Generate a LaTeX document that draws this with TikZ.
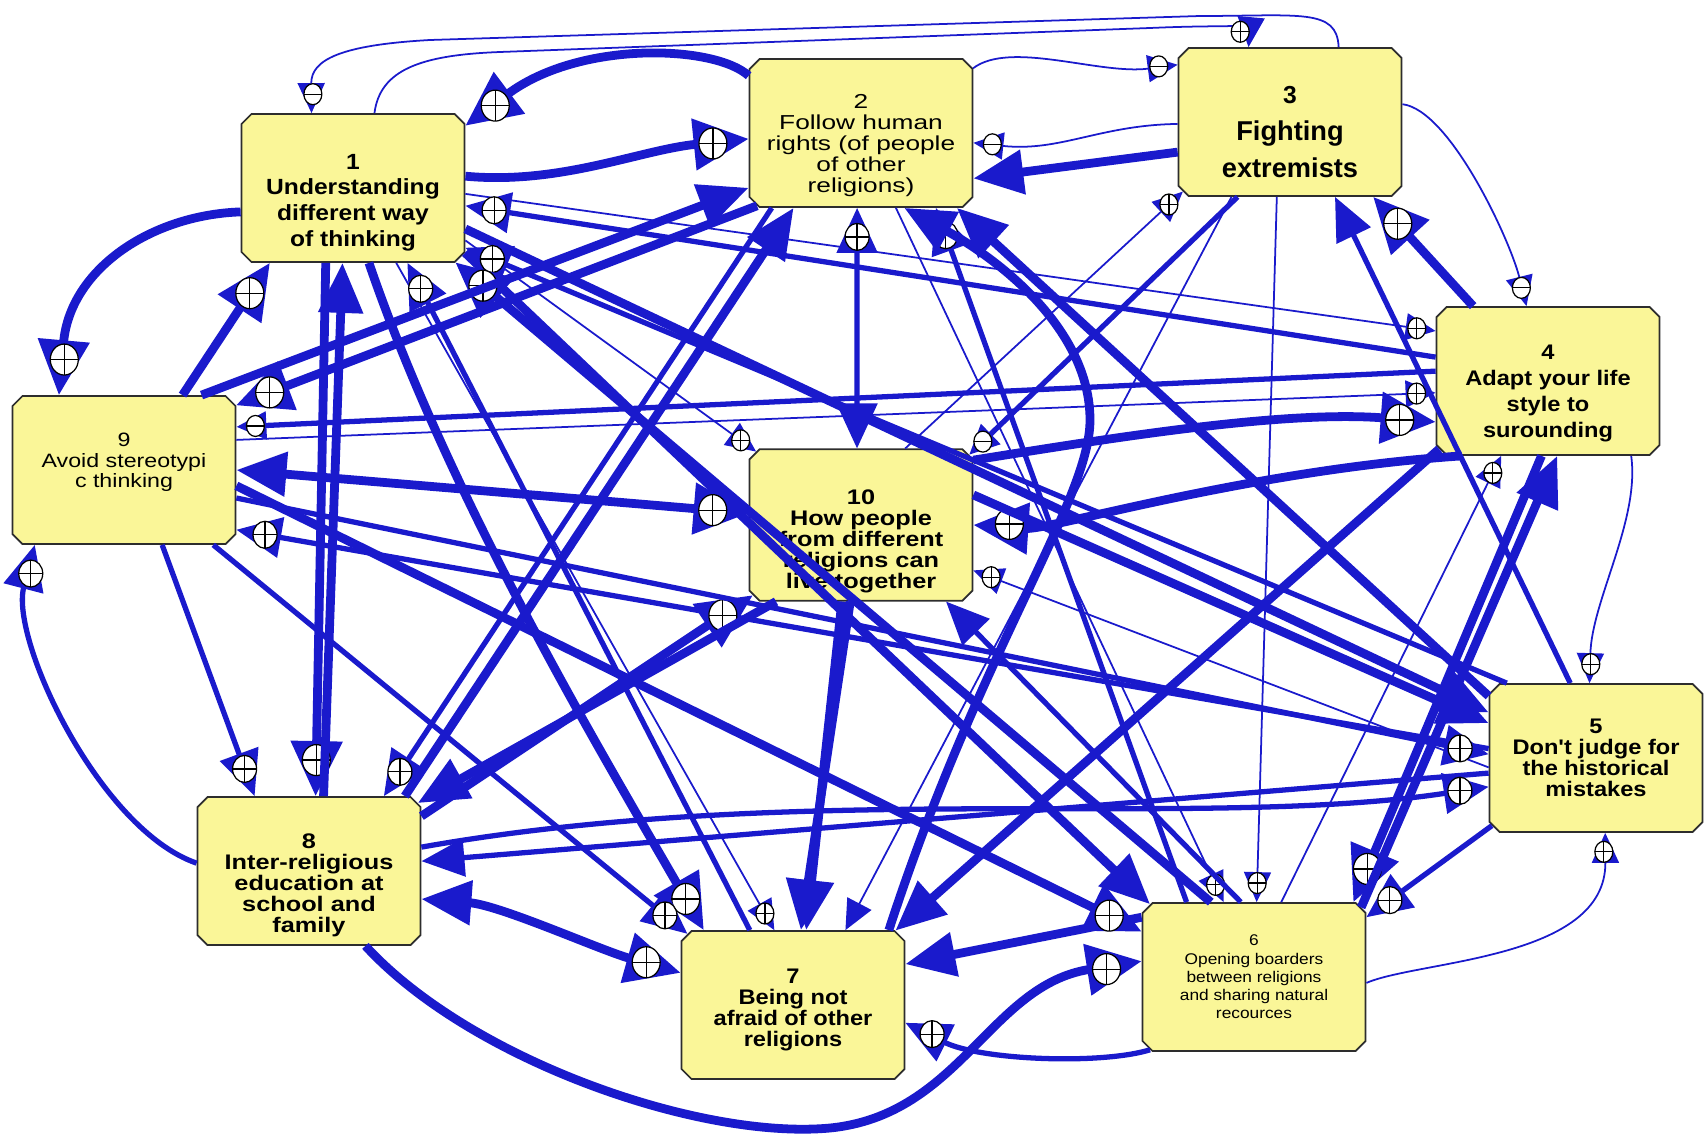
\documentclass[tikz,border=0pt]{standalone}
\usepackage{fontspec}
\setmainfont{Liberation Sans}
\newfontfamily\widesans[FakeStretch=1.12]{Liberation Sans}
\newfontfamily\widersans[FakeStretch=1.2]{Liberation Sans}
\newfontfamily\widestsans[FakeStretch=1.3]{Liberation Sans}
\usetikzlibrary{shapes.misc,shapes.geometric,arrows.meta,decorations.markings}
\definecolor{linkblue}{RGB}{26,26,204}
\definecolor{factorfill}{RGB}{250,246,152}
\definecolor{factorline}{RGB}{45,45,45}

\begin{document}
\begin{tikzpicture}[
  x=0.2mm, y=-0.2mm,
  factor/.style={chamfered rectangle, chamfered rectangle xsep=1mm,
    chamfered rectangle ysep=1mm, draw=factorline, line width=1pt,
    fill=factorfill, minimum width=44.6mm, minimum height=29.6mm,
    inner sep=0.5mm, align=center},
  link/.style={draw=linkblue, line join=round},
  thinlink/.style={link, line width=1pt},
  midlink/.style={link, line width=3pt},
  thicklink/.style={link, line width=5pt},
  plusmark/.style={ellipse, draw=black, fill=white, line width=0.7pt,
    minimum width=5.6mm, minimum height=6.2mm, inner sep=0pt,
    path picture={\draw[-, black, line width=0.7pt]
      (path picture bounding box.north) -- (path picture bounding box.south)
      (path picture bounding box.west) -- (path picture bounding box.east);}},
  midplus/.style={plusmark, minimum width=4.8mm, minimum height=5.4mm},
  smallplus/.style={plusmark, minimum width=3.6mm, minimum height=4.2mm},
  smallminus/.style={ellipse, draw=black, fill=white, line width=0.7pt,
    minimum width=3.6mm, minimum height=4.2mm, inner sep=0pt,
    path picture={\draw[-, black, line width=0.7pt]
      (path picture bounding box.west) -- (path picture bounding box.east);}},
  posbig/.style={-{Triangle[length=11mm,width=10mm]},
    postaction={decorate, decoration={markings,
      mark=at position -7.2mm with {\node[plusmark] {};}}}},
  posmid/.style={-{Triangle[length=9mm,width=8mm]},
    postaction={decorate, decoration={markings,
      mark=at position -5.8mm with {\node[midplus] {};}}}},
  possmall/.style={-{Triangle[length=6mm,width=5.4mm]},
    postaction={decorate, decoration={markings,
      mark=at position -3.8mm with {\node[smallplus] {};}}}},
  negsmall/.style={-{Triangle[length=6mm,width=5.4mm]},
    postaction={decorate, decoration={markings,
      mark=at position -3.8mm with {\node[smallminus] {};}}}},
  bothplus/.style={{Triangle[length=10mm,width=8.6mm]}-{Triangle[length=11mm,width=10mm]},
    postaction={decorate, decoration={markings,
      mark=at position -7.2mm with {\node[plusmark] {};}}}},
  bothmid/.style={{Triangle[length=9mm,width=8mm]}-{Triangle[length=9mm,width=8mm]},
    postaction={decorate, decoration={markings,
      mark=at position -5.8mm with {\node[midplus] {};}}}},
  headbig/.style={-{Triangle[length=10mm,width=8.6mm]}},
  headmid/.style={-{Triangle[length=8.6mm,width=7.4mm]}},
  headsmall/.style={-{Triangle[length=6mm,width=5.4mm]}}
]
\fill[white] (0,0) rectangle (1704,1136);
\useasboundingbox (0,0) rectangle (1704,1136);

% Factors
\node[factor, font=\widesans\fontsize{12.5}{14.6}\selectfont\bfseries] (n1) at (353,188) {\rule{0pt}{25pt}1\\Understanding\\different way\\of thinking};
\node[factor, font=\widestsans\fontsize{11.5}{12}\selectfont] (n2) at (861,133) {\rule{0pt}{22.5pt}2\\Follow human\\rights (of people\\of other\\religions)};
\node[factor, font=\fontsize{15.5}{21}\selectfont\bfseries] (n3) at (1290,122) {\rule{0pt}{21pt}{\fontsize{14}{14}\selectfont 3}\\Fighting\\extremists};
\node[factor, font=\widesans\fontsize{12}{14.8}\selectfont\bfseries] (n4) at (1548,381) {\rule{0pt}{22pt}4\\Adapt your life\\style to\\surounding};
\node[factor, minimum width=42.6mm, font=\widesans\fontsize{12}{12}\selectfont\bfseries] (n5) at (1596,758) {5\\Don't judge for\\the historical\\mistakes};
\node[factor, font=\widesans\fontsize{8.8}{10.4}\selectfont] (n6) at (1254,977) {6\\Opening boarders\\between religions\\and sharing natural\\recources};
\node[factor, font=\widesans\fontsize{12}{12}\selectfont\bfseries] (n7) at (793,1005) {\rule{0pt}{13.6pt}7\\Being not\\afraid of other\\religions};
\node[factor, font=\widersans\fontsize{12}{12}\selectfont\bfseries] (n8) at (309,871) {\rule{0pt}{24.6pt}8\\Inter-religious\\education at\\school and\\family};
\node[factor, font=\widersans\fontsize{11}{11.8}\selectfont] (n9) at (124,470) {9\\Avoid stereotypi\\c thinking\rule[-11pt]{0pt}{0pt}};
\node[factor, font=\widersans\fontsize{12}{12}\selectfont\bfseries] (n10) at (861,525) {\rule{0pt}{27pt}10\\How people\\from different\\religions can\\live together};

% Links from 1
\draw[thicklink, posbig] (n1.6) .. controls (560,185) and (640,150) .. (n2.183);
\draw[thicklink, posbig] (n1.192) .. controls (150,215) and (70,270) .. (n9.131);
\draw[thinlink, possmall] (n1.74) .. controls (380,70) and (420,55) .. (500,52) -- (1150,28) .. controls (1240,24) and (1250,30) .. (n3.119);
\draw[thicklink, posbig] (n1.250) -- (n8.85);
\draw[thicklink, posbig] (n1.282) .. controls (450,500) and (600,750) .. (n7.140);
\draw[thinlink, possmall] (n1.-60) -- (n7.104);
\draw[thicklink, headbig] (n1.-30) -- (n6.145);
\draw[thicklink, headbig] (n1.-20) -- (n5.157);
\draw[thinlink, possmall] (n1.-25) -- (n10.145);
\draw[thinlink, possmall] (n1.-3) -- (n4.156);

% Links from 2
\draw[thicklink, posbig] (n2.153) .. controls (715,45) and (580,40) .. (n1.29);
\draw[thinlink, negsmall] (n2.30) .. controls (1010,40) and (1100,75) .. (n3.153);
\draw[thicklink, posbig] (n2.215) -- (n9.30);
\draw[midlink, posmid] (n2.220) -- (n8.45);
\draw[thinlink, possmall] (n2.-65) -- (n6.112);

% Links from 3
\draw[thinlink, negsmall] (n3.57) .. controls (1337,8) and (1300,16) .. (1200,16) -- (430,40) .. controls (340,45) and (311,60) .. (n1.119);
\draw[thinlink, negsmall] (n3.181) .. controls (1100,125) and (1060,152) .. (n2.-5);
\draw[thicklink, headbig] (n3.195) -- (n2.-22);
\draw[thinlink, negsmall] (n3.9) .. controls (1450,110) and (1510,240) .. (n4.106);
\draw[midlink, negsmall] (n3.235) -- (n10.33);
\draw[thinlink, possmall] (n3.-100) -- (n6.88);
\draw[thinlink, headsmall] (n3.232) -- (n7.55);

% Links from 4
\draw[thicklink, posbig] (n4.135) -- (n3.-42);
\draw[thinlink, possmall] (n4.-42) .. controls (1640,520) and (1592,600) .. (n5.95);
\draw[thicklink, posbig] (n4.-95) -- (n6.37);
\draw[thicklink, posbig] (n4.221) .. controls (1250,470) and (1050,530) .. (n10.0);
\draw[midlink, posmid] (n4.168) -- (n1.-9);
\draw[midlink, negsmall] (n4.175) -- (n9.21);
\draw[thicklink, headbig] (n4.212) -- (n7.36);

% Links from 5
\draw[midlink, headmid] (n5.109) -- (n3.-59);
\draw[midlink, posmid] (n5.213) -- (n6.28);
\draw[thicklink, headbig] (n5.150) -- (n2.-38);
\draw[midlink, posmid] (n5.140) -- (n1.-28);
\draw[midlink, posmid] (n5.175) -- (n9.-28);
\draw[thinlink, possmall] (n5.185) -- (n10.-22);
\draw[midlink, headmid] (n5.188) -- (n8.5);

% Links from 6
\draw[thinlink, possmall] (n6.-3) .. controls (1420,960) and (1606,960) .. (n5.-83);
\draw[thicklink, headbig] (n6.33) -- (n4.-83);
\draw[midlink, posmid] (n6.215) .. controls (1100,1065) and (980,1060) .. (n7.-9);
\draw[thicklink, headbig] (n6.152) -- (n7.20);
\draw[thicklink, posbig] (n6.120) -- (n1.-36);
\draw[midlink, posmid] (n6.132) -- (n2.-45);
\draw[midlink, headmid] (n6.100) -- (n10.-42);
\draw[thinlink, possmall] (n6.70) -- (n4.-122);

% Links from 7
\draw[midlink, posmid] (n7.120) -- (n1.-54);
\draw[thicklink, headbig] (n7.38) .. controls (980,650) and (1090,500) .. (1090,420) .. controls (1090,330) and (1000,260) .. (n2.-60);

% Links from 8
\draw[thicklink, headbig] (n8.79) -- (n1.262);
\draw[midlink, posmid] (n8.176) .. controls (100,830) and (10,640) .. (n9.220);
\draw[thicklink, headbig] (n8.38) -- (n2.228);
\draw[thicklink, posbig] (n8.26) -- (n10.213);
\draw[thicklink, bothplus] (n8.-14) .. controls (500,905) and (600,950) .. (n7.164);
\draw[thicklink, posbig] (n8.-53) .. controls (470,1060) and (700,1140) .. (830,1128) .. controls (960,1115) and (990,985) .. (n6.172);
\draw[midlink, posmid] (n8.12) .. controls (800,780) and (1200,830) .. (n5.195);

% Links from 9
\draw[thicklink, posbig] (n9.52) -- (n1.222);
\draw[thicklink, headbig] (n9.44) -- (n2.206);
\draw[midlink, posmid] (n9.-63) -- (n8.126);
\draw[midlink, posmid] (n9.-40) -- (n7.146);
\draw[thicklink, posbig] (n9.-8) -- (n6.158);
\draw[midlink, posmid] (n9.-14) -- (n5.178);
\draw[thinlink, possmall] (n9.15) -- (n4.186);
\draw[thicklink, bothplus] (n9.0) -- (n10.174);

% Links from 10
\draw[thicklink, posbig] (n10.30) .. controls (1100,440) and (1280,410) .. (n4.200);
\draw[thicklink, headbig] (n10.256) -- (n7.80);
\draw[thicklink, headbig] (n10.262) -- (n7.84);
\draw[thicklink, headbig] (n10.222) -- (n8.32);
\draw[thicklink, headbig] (n10.15) -- (n5.162);
\draw[midlink, bothmid] (n10.93) -- (n2.-93);
\draw[thinlink, possmall] (n10.60) -- (n3.213);
\end{tikzpicture}
\end{document}
